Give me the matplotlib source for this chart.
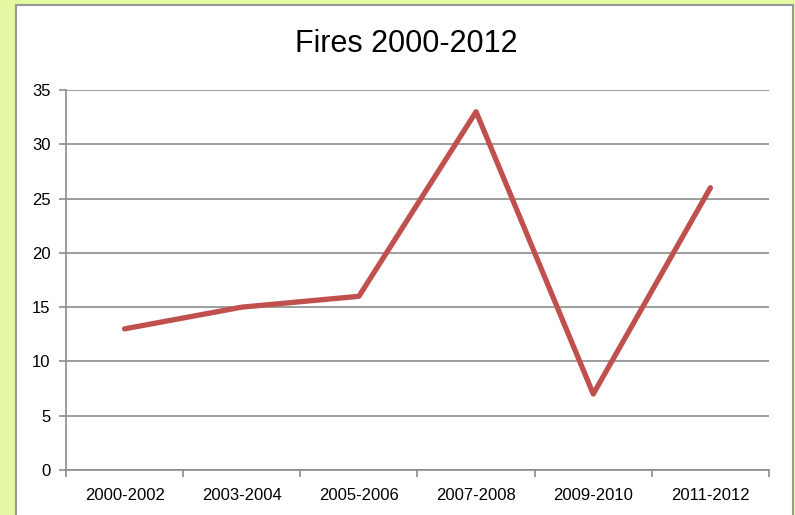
import matplotlib.pyplot as plt
from matplotlib.patches import Rectangle

periods = ["2000-2002", "2003-2004", "2005-2006", "2007-2008", "2009-2010", "2011-2012"]
fires = [13, 15, 16, 33, 7, 26]
y_ticks = [0, 5, 10, 15, 20, 25, 30, 35]

plt.rcParams["font.family"] = ["Liberation Sans", "DejaVu Sans"]

fig = plt.figure(figsize=(7.95, 5.15), dpi=100)
fig.patch.set_facecolor("#e4f9a2")

# white chart box with gray border, behind the axes
box = Rectangle((16 / 795, -0.05), (793 - 16) / 795, 1.05 - 5 / 515,
                transform=fig.transFigure, facecolor="white",
                edgecolor="#9a9a9a", linewidth=1.5, zorder=-10)
fig.patches.append(box)

ax = fig.add_axes([66 / 795, 1 - 470 / 515, (769 - 66) / 795, (470 - 90) / 515])
ax.set_facecolor("none")

x = range(len(periods))
ax.plot(x, fires, color="#c0504d", linewidth=3.8, solid_capstyle="round",
        solid_joinstyle="round")

ax.set_xlim(-0.5, len(periods) - 0.5)
ax.set_ylim(0, 35)
ax.set_yticks(y_ticks)
ax.set_yticklabels([str(v) for v in y_ticks])
ax.yaxis.grid(True, color="#8c8c8c", linewidth=1.2)
ax.set_axisbelow(True)

ax.set_xticks(list(x))
ax.set_xticklabels(periods)
ax.set_xticks([i - 0.5 for i in range(len(periods) + 1)], minor=True)
ax.tick_params(axis="x", which="major", length=0, pad=13, labelsize=12)
ax.tick_params(axis="x", which="minor", length=5, color="#8c8c8c", width=1.2)
ax.tick_params(axis="y", length=5, color="#8c8c8c", width=1.2, labelsize=12, pad=6)

for side in ("top", "right"):
    ax.spines[side].set_visible(False)
for side in ("left", "bottom"):
    ax.spines[side].set_color("#8c8c8c")
    ax.spines[side].set_linewidth(1.2)

fig.text(406 / 795, 1 - 44 / 515, "Fires 2000-2012", ha="center", va="center",
         fontsize=22, color="black")

fig.savefig("out.png", dpi=100, facecolor=fig.get_facecolor())
